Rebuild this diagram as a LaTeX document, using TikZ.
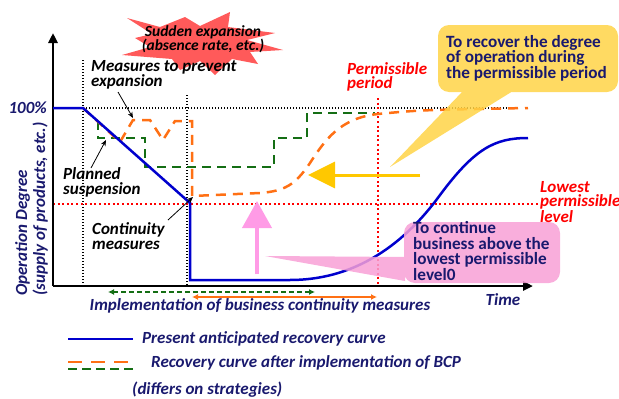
\documentclass[tikz,border=0pt]{standalone}
\usepackage{fontspec}
\setmainfont{Carlito}
\usetikzlibrary{arrows.meta}
\definecolor{navy}{RGB}{25,25,110}
\definecolor{bcpblue}{RGB}{0,0,205}
\definecolor{bcporange}{RGB}{255,112,20}
\definecolor{bcpgreen}{RGB}{20,110,20}
\definecolor{burst}{RGB}{255,90,90}
\definecolor{callyellow}{RGB}{255,212,70}
\definecolor{arrowyellow}{RGB}{255,200,0}
\definecolor{arrowpink}{RGB}{255,155,230}
\definecolor{callpink}{RGB}{248,160,214}
\tikzset{
  lbl/.style={inner sep=0pt, font=\fontsize{17}{15}\selectfont\bfseries\itshape, align=left},
  navylbl/.style={lbl, text=navy},
  redlbl/.style={lbl, text=red, font=\fontsize{17}{14}\selectfont\bfseries\itshape},
  calltext/.style={inner sep=0pt, text=navy, align=left, font=\fontsize{17.2}{15.5}\selectfont\bfseries},
  blackdot/.style={black, line width=1.3pt, dash pattern=on 1.3pt off 1.7pt},
  reddot/.style={red, line width=2pt, dash pattern=on 2pt off 2.6pt},
  orangecurve/.style={bcporange, line width=2.5pt, dash pattern=on 10pt off 7pt},
  greencurve/.style={bcpgreen, line width=2.5pt, dash pattern=on 9pt off 6pt},
  bluecurve/.style={bcpblue, line width=2.5pt},
  pointer/.style={black, line width=0.8pt, -{Stealth[length=6pt,width=5pt]}},
}
\begin{document}
\begin{tikzpicture}[x=1pt,y=-1pt]
\useasboundingbox (0,0) rectangle (619,399);

% starburst
\fill[burst] (127,18) -- (160,27) -- (185,17) -- (200,26) -- (230,12) -- (228,27)
  -- (275,33) -- (247,40) -- (283,50) -- (250,52) -- (258,64) -- (232,59)
  -- (215,75) -- (200,61) -- (180,70) -- (172,59) -- (122,55) -- (150,47)
  -- (135,38) -- (152,34) -- cycle;
\node[lbl, align=center, font=\fontsize{15.5}{14}\selectfont\bfseries\itshape] (burstText) at (203,39) {Sudden expansion\\(absence rate, etc.)};

% reference lines
\coordinate (o) at (53,286);
\draw[blackdot] (83,60) -- (83,286);
\draw[blackdot] (187,95) -- (187,286);
\draw[blackdot] (83,108) -- (507,108);
\draw[reddot] (53,204) -- (538,204);
\draw[reddot] (378,98) -- (378,286);

% axes
\draw[line width=2.5pt, -{Triangle[length=10pt,width=9pt]}] (o) -- (53,33);
\draw[line width=2.5pt, -{Triangle[length=10pt,width=9pt]}] (o) -- (533,286);

% green curve
\draw[greencurve] (98,121) -- (98,138) -- (145,138) -- (145,167) -- (274,167)
  -- (274,138) -- (307,138) -- (307,113) -- (375,113);

% orange curve
\draw[orangecurve] (83,108) -- (120,142) -- (133,120) -- (150,120) -- (163,140)
  -- (175,121) -- (192,121) -- (192,196) -- (260,193)
  .. controls (285,191) and (295,185) .. (310,163)
  .. controls (325,140) and (340,118) .. (378,114)
  .. controls (420,110) .. (528,108);

% blue curve
\draw[bluecurve] (53,108) -- (83,108) -- (190,203) -- (190,280) -- (290,280)
  .. controls (350,280) and (400,250) .. (440,195)
  .. controls (475,148) and (495,138) .. (528,138);

% yellow callout
\fill[callyellow, fill opacity=0.85] (438,25) [rounded corners=11pt] rectangle (618,92)
  [sharp corners] (463,91) -- (390,167) -- (513,91) -- cycle;
\node[calltext, anchor=west] (yText) at (446,58) {To recover the degree\\of operation during\\the permissible period};

% yellow arrow
\coordinate (yTail) at (420,175);
\coordinate (yTip) at (308,175);
\draw[arrowyellow, line width=3pt, -{Triangle[length=27pt,width=26pt]}] (yTail) -- (yTip);

% pink arrow
\coordinate (pTail) at (257,274);
\coordinate (pTip) at (257,201);
\draw[arrowpink, line width=4pt, -{Triangle[length=27pt,width=29pt]}] (pTail) -- (pTip);

% pink callout
\fill[callpink, fill opacity=0.85] (404,222) [rounded corners=11pt] rectangle (560,283)
  [sharp corners] (405,257) -- (265,256) -- (405,281) -- cycle;
\node[calltext, anchor=west] (pText) at (413,251) {To continue\\business above the\\lowest permissible\\level0};

% labels and pointers
\node[lbl, anchor=west] (measures) at (91,75) {Measures to prevent\\expansion};
\coordinate (mTail) at (118,92);
\coordinate (mTip) at (133,118);
\draw[pointer] (mTail) -- (mTip);

\node[lbl, anchor=west] (planned) at (63,182) {Planned\\suspension};
\coordinate (sTail) at (91,168);
\coordinate (sTip) at (106,140);
\draw[pointer] (sTail) -- (sTip);

\node[lbl, anchor=west] (continuity) at (92,236) {Continuity\\measures};
\coordinate (cTail) at (168,220);
\coordinate (cTip) at (193,197);
\draw[pointer] (cTail) -- (cTip);

\node[navylbl, anchor=east] (hundred) at (47,108) {100\%};
\node[redlbl, anchor=west] (period) at (347,77) {Permissible\\period};
\node[redlbl, anchor=west] (lowest) at (540,202) {Lowest\\permissible\\level};

\node[navylbl, rotate=90, anchor=north west, font=\fontsize{17}{18}\selectfont\bfseries\itshape] (ylabel) at (15,296) {Operation Degree\\(supply of products, etc.)};

% implementation arrows
\coordinate (gL) at (108,292);
\coordinate (gR) at (315,292);
\draw[bcpgreen, line width=1.5pt, dash pattern=on 5pt off 3pt, {Latex[length=6pt,width=6pt]}-{Latex[length=6pt,width=6pt]}] (gL) -- (gR);
\coordinate (oL) at (192,297);
\coordinate (oR) at (377,297);
\draw[bcporange, line width=1.5pt, {Latex[length=6pt,width=6pt]}-{Latex[length=6pt,width=6pt]}] (oL) -- (oR);
\node[navylbl] (impl) at (260,306) {Implementation of business continuity measures};
\node[navylbl] (time) at (503,300) {Time};

% legend
\coordinate (l1a) at (68,339); \coordinate (l1b) at (133,339);
\draw[bluecurve] (l1a) -- (l1b);
\node[navylbl, anchor=west] (leg1) at (142,339) {Present anticipated recovery curve};
\coordinate (l2a) at (68,362); \coordinate (l2b) at (133,362);
\draw[bcporange, line width=2.5pt, dash pattern=on 14pt off 9pt] (l2a) -- (l2b);
\coordinate (l3a) at (68,369); \coordinate (l3b) at (133,369);
\draw[bcpgreen, line width=2.5pt, dash pattern=on 9pt off 5pt] (l3a) -- (l3b);
\node[navylbl, anchor=west] (leg2) at (151,363) {Recovery curve after implementation of BCP};
\node[navylbl, anchor=west] (leg3) at (132,390) {(differs on strategies)};
\end{tikzpicture}
\end{document}
